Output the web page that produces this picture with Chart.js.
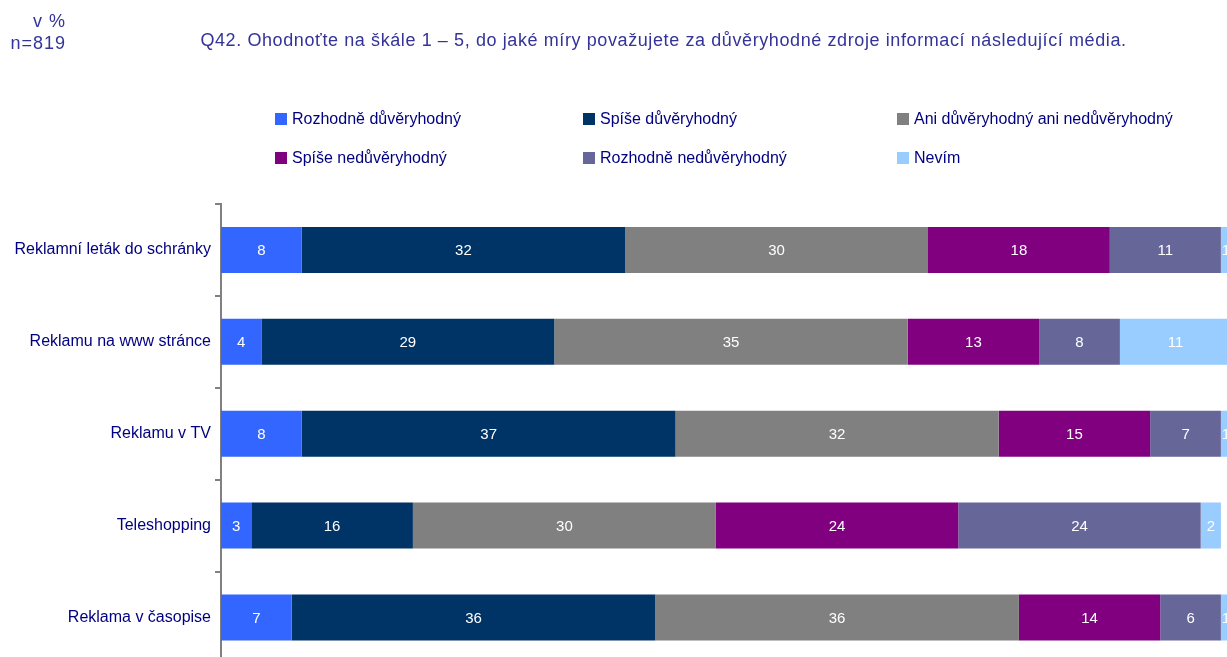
<!DOCTYPE html>
<html>
<head>
<meta charset="utf-8">
<script src="https://cdn.jsdelivr.net/npm/chart.js@4/dist/chart.umd.min.js"></script>
<style>
  html, body { margin: 0; padding: 0; overflow: hidden; background: #fff; }
  body { width: 1227px; height: 657px; position: relative; font-family: "Liberation Sans", Arial, sans-serif; }
  #chart { position: absolute; left: 0; top: 0; }
  .hdr { position: absolute; color: #333399; font-size: 18px; white-space: nowrap; }
  #unit { right: calc(1227px - 66px); top: 10px; text-align: right; line-height: 22px; letter-spacing: 1px; }
  #title { left: 0; width: 1327px; top: 30px; text-align: center; letter-spacing: 0.6px; }
  .leg { position: absolute; color: #000080; font-size: 16px; white-space: nowrap; }
  .leg i { display: inline-block; width: 12px; height: 12px; margin-right: 5px; vertical-align: -1px; }
</style>
</head>
<body>
<canvas id="chart" width="1231" height="677"></canvas>
<div class="hdr" id="unit">v %<br>n=819</div>
<div class="hdr" id="title">Q42. Ohodnoťte na škále 1 – 5, do jaké míry považujete za důvěryhodné zdroje informací následující média.</div>
<div id="legend"></div>
<script>
// Kategorie (média)
const categories = ['Reklamní leták do schránky', 'Reklamu na www stránce', 'Reklamu v TV', 'Teleshopping', 'Reklama v časopise'];

// Odpovědi v %
const rozhodneDuv = [8, 4, 8, 3, 7];
const spiseDuv = [32, 29, 37, 16, 36];
const aniAni = [30, 35, 32, 30, 36];
const spiseNeduv = [18, 13, 15, 24, 14];
const rozhodneNeduv = [11, 8, 7, 24, 6];
const nevim = [1, 11, 1, 2, 1];

const series = [
  { label: 'Rozhodně důvěryhodný', data: rozhodneDuv, color: '#3366FF' },
  { label: 'Spíše důvěryhodný', data: spiseDuv, color: '#003366' },
  { label: 'Ani důvěryhodný ani nedůvěryhodný', data: aniAni, color: '#808080' },
  { label: 'Spíše nedůvěryhodný', data: spiseNeduv, color: '#800080' },
  { label: 'Rozhodně nedůvěryhodný', data: rozhodneNeduv, color: '#666699' },
  { label: 'Nevím', data: nevim, color: '#99CCFF' }
];

// legenda ve třech sloupcích
const legPos = [[275, 110], [583, 110], [897, 110], [275, 149], [583, 149], [897, 149]];
const legend = document.getElementById('legend');
series.forEach((s, i) => {
  const d = document.createElement('div');
  d.className = 'leg';
  d.style.left = legPos[i][0] + 'px';
  d.style.top = legPos[i][1] + 'px';
  d.innerHTML = '<i style="background:' + s.color + '"></i>' + s.label;
  legend.appendChild(d);
});

// hodnoty uprostřed segmentů
const valueLabels = {
  id: 'valueLabels',
  afterDatasetsDraw(chart) {
    const ctx = chart.ctx;
    ctx.save();
    ctx.font = '15px "Liberation Sans", Arial, sans-serif';
    ctx.fillStyle = '#ffffff';
    ctx.textAlign = 'center';
    ctx.textBaseline = 'middle';
    chart.data.datasets.forEach((ds, i) => {
      chart.getDatasetMeta(i).data.forEach((bar, j) => {
        const p = bar.getCenterPoint();
        ctx.fillText(ds.data[j], p.x, p.y + 1);
      });
    });
    ctx.restore();
  }
};

new Chart(document.getElementById('chart').getContext('2d'), {
  type: 'bar',
  data: {
    labels: categories,
    datasets: series.map(s => ({
      label: s.label,
      data: s.data,
      backgroundColor: s.color,
      borderWidth: 0,
      barPercentage: 0.5,
      categoryPercentage: 1
    }))
  },
  options: {
    indexAxis: 'y',
    responsive: false,
    animation: false,
    layout: { padding: { top: 204, left: 0, right: 0, bottom: 0 } },
    plugins: { legend: { display: false }, tooltip: { enabled: false } },
    scales: {
      x: { stacked: true, min: 0, max: 100, display: false },
      y: {
        stacked: true,
        afterFit: (scale) => { scale.width = 221; },
        border: { color: '#808080', width: 2 },
        grid: { drawOnChartArea: false, color: '#808080', lineWidth: 2, tickLength: 6 },
        ticks: { color: '#000080', padding: 4, font: { family: '"Liberation Sans", Arial, sans-serif', size: 16 } }
      }
    }
  },
  plugins: [valueLabels]
});
</script>
</body>
</html>
